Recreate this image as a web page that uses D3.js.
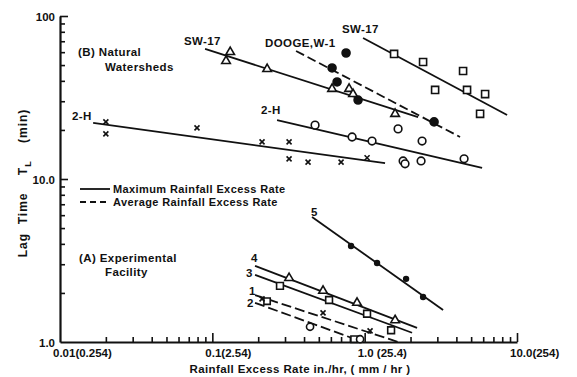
<!DOCTYPE html>
<html>
<head>
<meta charset="utf-8">
<script src="https://cdn.jsdelivr.net/npm/d3@7"></script>
<style>
  body { margin: 0; background: #fff; }
  svg { display: block; font-family: 'Liberation Sans', Arial, sans-serif; font-weight: bold; }
  text { fill: #111; }
</style>
</head>
<body>
<svg id="chart" width="577" height="377"></svg>
<script>
// ---- data (x = rainfall excess rate in./hr, y = lag time min) ----
// (B) natural watersheds
const sw17Tri = [[0.131, 60.1], [0.123, 53.0], [0.229, 47.3], [0.611, 35.7], [0.790, 35.7], [0.839, 33.2], [1.584, 25.1]]
const sw17TriLine = [[0.0896, 62.8], [2.242, 24.0]]
const doogeDots = [[0.755, 59.3], [0.611, 48.0], [0.659, 39.4], [0.905, 30.5], [2.856, 22.4]]
const doogeLine = [[0.3545, 61.0], [4.227, 18.1]]
const sw17Sq = [[1.56, 58.5], [2.418, 52.2], [4.426, 46.0], [2.90, 35.2], [4.70, 35.2], [6.175, 33.2], [5.724, 25.1]]
const sw17SqLine = [[0.976, 73.3], [8.61, 24.7]]
const twoHCirc = [[0.4725, 21.4], [0.827, 18.1], [1.118, 17.1], [1.657, 20.3], [2.382, 17.1], [1.788, 12.9], [1.841, 12.4], [2.346, 12.9], [4.495, 13.3]]
const twoHCircLine = [[0.266, 23.0], [5.90, 11.7]]
const twoHX = [[0.020, 22.4], [0.020, 18.9], [0.0793, 20.6], [0.212, 16.9], [0.319, 16.9], [0.319, 13.3], [0.425, 12.7], [0.70, 12.7], [1.037, 13.5]]
const twoHXLine = [[0.0165, 22.1], [1.361, 12.5]]

// (A) experimental facility
const run5 = [[0.814, 3.88], [1.206, 3.05], [1.870, 2.44], [2.418, 1.89]]
const run5Line = [[0.4514, 5.85], [3.272, 1.57]]
const run4 = [[0.319, 2.47], [0.533, 2.06], [0.891, 1.74], [1.584, 1.36]]
const run4Line = [[0.1907, 2.93], [2.208, 1.22]]
const run3 = [[0.278, 2.21], [0.584, 1.81], [1.037, 1.49], [1.491, 1.18]]
const run3Line = [[0.1907, 2.58], [2.047, 1.14]]
const run1 = [[0.212, 1.84], [0.533, 1.51], [1.085, 1.17]]
const run1Line = [[0.1907, 1.94], [1.657, 1.0]]
const run2Sq = [[0.2287, 1.78], [0.852, 1.04]]
const run2Circ = [[0.438, 1.24], [0.933, 1.04]]
const run2Line = [[0.1907, 1.74], [0.976, 1.0]]

const xMajor = [0.01, 0.1, 1, 10]
const xTickLabels = ['0.01(0.254)', '0.1(2.54)', '1.0 (25.4)', '10.0(254)']
const yMajor = [1, 10, 100]
const yTickLabels = ['1.0', '10.0', '100']

const svg = d3.select('#chart')
const x = d3.scaleLog().domain([0.01, 10]).range([60, 517])
const y = d3.scaleLog().domain([1, 100]).range([342, 16])

// axes: ticks point inward
const xMinor = x.ticks().filter(v => !xMajor.includes(+v.toPrecision(3)))
const yMinor = y.ticks().filter(v => !yMajor.includes(+v.toPrecision(3)))

svg.append('g').attr('transform', 'translate(0,342)')
  .call(d3.axisBottom(x).tickValues(xMinor).tickSizeInner(-5).tickSizeOuter(0).tickFormat(''))
svg.append('g').attr('transform', 'translate(0,342)')
  .call(d3.axisBottom(x).tickValues(xMajor.slice(1)).tickSizeInner(-9).tickSizeOuter(0).tickFormat(''))
  .select('.domain').remove()
svg.append('g').attr('transform', 'translate(60,0)')
  .call(d3.axisLeft(y).tickValues(yMinor).tickSizeInner(-5).tickSizeOuter(0).tickFormat(''))
svg.append('g').attr('transform', 'translate(60,0)')
  .call(d3.axisLeft(y).tickValues(yMajor.slice(1)).tickSizeInner(-8).tickSizeOuter(0).tickFormat(''))
  .select('.domain').remove()
svg.selectAll('.domain').attr('stroke', '#111').attr('stroke-width', 2.2)
svg.selectAll('.tick line').attr('stroke', '#111').attr('stroke-width', 1.6)

svg.selectAll('.ylab').data(yMajor).enter().append('text')
  .attr('x', 55).attr('y', d => y(d) + 5)
  .attr('text-anchor', 'end').attr('font-size', 11.5)
  .text((d, i) => yTickLabels[i])
svg.selectAll('.xlab').data(xMajor).enter().append('text')
  .attr('x', d => x(d) - 7).attr('y', 357)
  .attr('font-size', 11.5)
  .text((d, i) => xTickLabels[i])

svg.append('text').attr('x', 300).attr('y', 373).attr('text-anchor', 'middle')
  .attr('font-size', 11.5).attr('letter-spacing', 0.4)
  .text('Rainfall Excess Rate  in./hr, ( mm / hr )')

const yt = svg.append('text').attr('transform', 'translate(27,183) rotate(-90)')
  .attr('text-anchor', 'middle').attr('font-size', 12).attr('letter-spacing', 1)
  .attr('xml:space', 'preserve').style('white-space', 'pre')
yt.append('tspan').text('Lag  Time    T')
yt.append('tspan').attr('dy', 4).attr('font-size', 9).text('L')
yt.append('tspan').attr('dy', -4).text('    (min)')

// ---- lines ----
const line = d3.line().x(d => x(d[0])).y(d => y(d[1]))
const drawLine = (pts, dash) => svg.append('path').datum(pts)
  .attr('d', line).attr('fill', 'none').attr('stroke', '#111').attr('stroke-width', 1.8)
  .attr('stroke-dasharray', dash || null)

drawLine(sw17TriLine)
drawLine(doogeLine, '9,4')
drawLine(sw17SqLine)
drawLine(twoHCircLine)
drawLine(twoHXLine)
drawLine(run5Line)
drawLine(run4Line)
drawLine(run3Line)
drawLine(run1Line, '10,4')
drawLine(run2Line, '10,4')

// ---- markers ----
const sym = (pts, type, size, filled) => svg.append('g').selectAll('path').data(pts).enter().append('path')
  .attr('transform', d => `translate(${x(d[0])},${y(d[1])})`)
  .attr('d', d3.symbol().type(type).size(size))
  .attr('fill', filled ? '#111' : '#fff').attr('stroke', '#111').attr('stroke-width', 1.6)

sym(sw17Tri, d3.symbolTriangle, 32)
sym(run4, d3.symbolTriangle, 32)
sym(doogeDots, d3.symbolCircle, 50, true)
sym(run5, d3.symbolCircle, 18, true)
sym(sw17Sq, d3.symbolSquare, 50)
sym(run3, d3.symbolSquare, 46)
sym(run2Sq, d3.symbolSquare, 40)
sym(twoHCirc, d3.symbolCircle, 46)
sym(run2Circ, d3.symbolCircle, 40)

const xMark = pts => svg.append('g').selectAll('path').data(pts).enter().append('path')
  .attr('transform', d => `translate(${x(d[0])},${y(d[1])})`)
  .attr('d', 'M-2.5,-2.5L2.5,2.5M2.5,-2.5L-2.5,2.5')
  .attr('stroke', '#111').attr('stroke-width', 1.6)
xMark(twoHX)
xMark(run1)

// ---- labels ----
const label = (tx, ty, s, size) => svg.append('text').attr('x', tx).attr('y', ty)
  .attr('font-size', size || 11.5).attr('letter-spacing', 0.4).text(s)

label(184, 45, 'SW-17')
label(265, 47, 'DOOGE,W-1')
label(342, 33, 'SW-17')
label(72, 120, '2-H')
label(261, 114, '2-H')
label(78, 56, '(B) Natural')
label(105, 71, 'Watersheds')
label(79, 262, '(A) Experimental')
label(105, 276, 'Facility')
label(311, 216, '5')
label(251, 262, '4')
label(246, 277, '3')
label(249, 295, '1')
label(247, 307, '2')

// legend
svg.append('line').attr('x1', 80).attr('x2', 110).attr('y1', 189).attr('y2', 189)
  .attr('stroke', '#111').attr('stroke-width', 1.8)
svg.append('line').attr('x1', 80).attr('x2', 110).attr('y1', 202).attr('y2', 202)
  .attr('stroke', '#111').attr('stroke-width', 1.8).attr('stroke-dasharray', '6,4')
label(113, 193, 'Maximum Rainfall Excess Rate', 11)
label(113, 206, 'Average Rainfall Excess Rate', 11)
</script>
</body>
</html>
